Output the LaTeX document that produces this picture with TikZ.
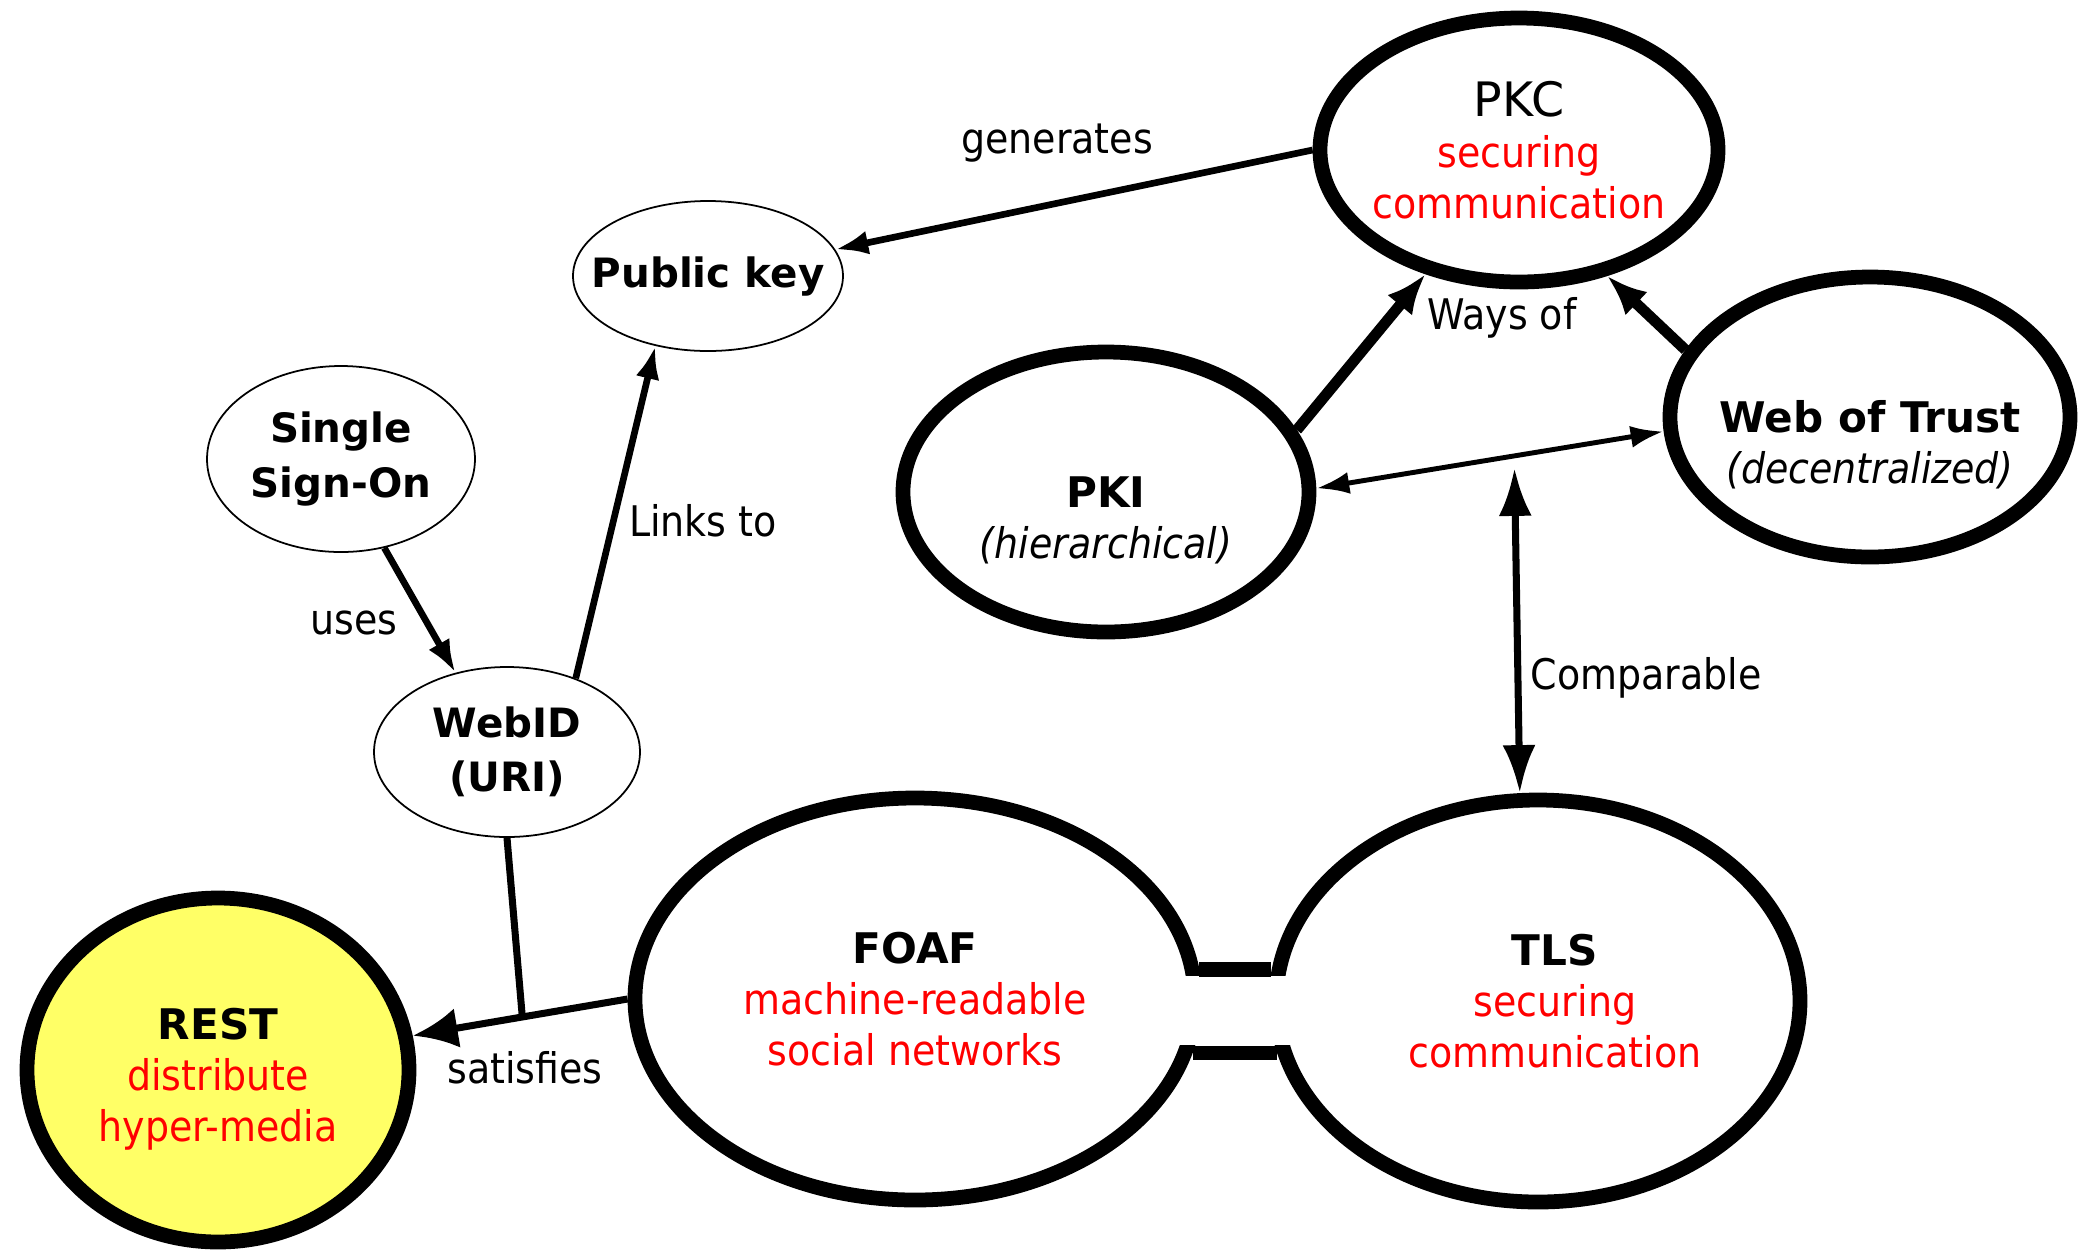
\documentclass[tikz,border=0pt]{standalone}
\usepackage{fontspec}
\setmainfont{DejaVu Sans Condensed}[BoldFont={DejaVu Sans Bold}]
\newfontfamily\widefont{DejaVu Sans}
\usepackage{tikz}
\tikzset{>=latex}
\usetikzlibrary{shapes.geometric, arrows.meta}

\definecolor{restyellow}{RGB}{255,255,102}

\tikzset{
    bigell/.style={ellipse, draw, line width=4.2pt, fill=white, inner xsep=-0.6cm, inner ysep=0pt, align=center, font=\fontsize{12}{14.5}\selectfont},
    smallell/.style={ellipse, draw, line width=0.5pt, fill=white, inner xsep=-0.35cm, inner ysep=0pt, align=center, font=\fontsize{11.5}{15.5}\selectfont\bfseries},
    lbl/.style={inner sep=0pt, font=\fontsize{12}{14.5}\selectfont},
    normarrow/.style={line width=1.9pt, -{Latex[length=3.3mm, width=2.4mm]}},
    thickarrow/.style={line width=3.1pt, -{Latex[length=4mm, width=3.2mm]}},
    satarrow/.style={line width=2pt, -{Latex[length=4.5mm, width=4mm]}},
    bridge/.style={line width=4.2pt},
}

\newcommand{\rd}[1]{\textcolor{red}{#1}}

\begin{document}
\begin{tikzpicture}[]

    \useasboundingbox (0,0) rectangle (20.8,-12.49);

    % nodes
    \node[bigell, minimum width=3.98cm, minimum height=2.64cm] (PKC) at (15.19,-1.50) {{\widefont\fontsize{13.5}{14.5}\selectfont PKC}\\\rd{securing}\\\rd{communication}};
    \node[bigell, minimum width=4.06cm, minimum height=2.80cm] (PKI) at (11.06,-4.92) {\strut\\\textbf{PKI}\\\textit{(hierarchical)}};
    \node[bigell, minimum width=4.00cm, minimum height=2.80cm] (WoT) at (18.70,-4.17) {\strut\\\textbf{Web of Trust}\\\textit{(decentralized)}};
    \node[bigell, minimum width=5.60cm, minimum height=4.02cm] (FOAF) at (9.15,-9.99) {\textbf{FOAF}\\\rd{machine-readable}\\\rd{social networks}};
    \node[bigell, minimum width=5.24cm, minimum height=4.02cm] (TLS) at (15.38,-10.01) {\hspace*{0.34cm}\textbf{TLS}\\\hspace*{0.34cm}\rd{securing}\\\hspace*{0.34cm}\rd{communication}};
    \node[bigell, fill=restyellow, minimum width=3.82cm, minimum height=3.44cm] (REST) at (2.18,-10.70) {\rule{0pt}{14pt}\textbf{REST}\\\rd{distribute}\\\rd{hyper-media}};

    \node[smallell, minimum width=2.70cm, minimum height=1.50cm] (pubkey) at (7.08,-2.76) {Public key};
    \node[smallell, minimum width=2.68cm, minimum height=1.86cm] (SSO) at (3.41,-4.59) {Single\\Sign-On};
    \node[smallell, minimum width=2.66cm, minimum height=1.70cm] (WebID) at (5.07,-7.52) {WebID\\(URI)};

    % FOAF -- TLS bridge
    \fill[white] ([xshift=-12pt,yshift=-2pt]FOAF.6) rectangle ([xshift=12pt,yshift=2pt]TLS.191);
    \draw[bridge] (FOAF.6) -- (FOAF.6 -| TLS.174);
    \draw[bridge] (FOAF.-11) -- (FOAF.-11 -| TLS.191);

    % edges
    \draw[normarrow] (PKC.west) -- (pubkey);
    \draw[normarrow] (WebID.47) -- (pubkey.233);
    \draw[normarrow] (SSO.-64) -- (WebID.123);
    \draw[satarrow] (FOAF.west) -- coordinate[pos=0.49] (join) (REST.10);
    \draw[line width=2pt] (WebID.south) -- (join);
    \draw[thickarrow] (PKI.18) -- (PKC.233);
    \draw[thickarrow] (WoT.160) -- (PKC.305);
    \draw[line width=1.4pt, {Latex[length=3.3mm, width=2.2mm]}-{Latex[length=3.3mm, width=2.2mm]}] (PKI.1) -- coordinate[pos=0.57] (cmp) (WoT.184);
    \draw[line width=2pt, {Latex[length=4.8mm, width=3.3mm]}-{Latex[length=4.8mm, width=3.3mm]}, shorten <=1.2mm] (cmp) -- (TLS.95);

    % edge labels
    \node[lbl] (lgen) at (10.57,-1.43) {generates};
    \node[lbl] (llinks) at (7.03,-5.21) {Links to};
    \node[lbl] (luses) at (3.54,-6.23) {uses};
    \node[lbl] (lsat) at (5.25,-10.68) {satisfies};
    \node[lbl] (lways) at (15.02,-3.18) {Ways of};
    \node[lbl] (lcmp) at (16.46,-6.78) {Comparable};

\end{tikzpicture}
\end{document}
